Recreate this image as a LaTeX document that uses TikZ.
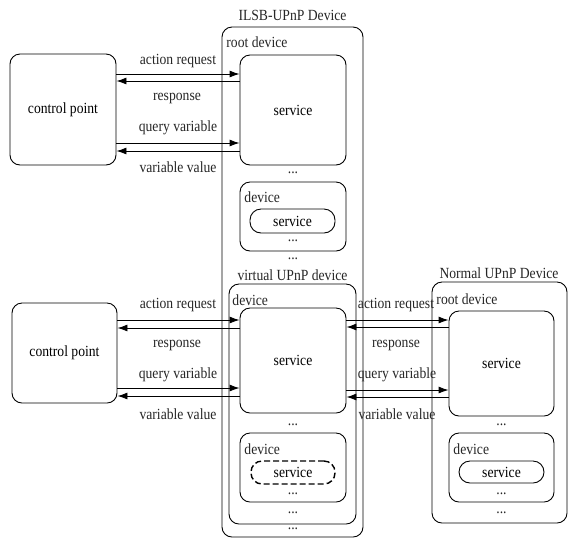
\documentclass[tikz,border=0pt]{standalone}
\usepackage{fontspec}
\setmainfont[FakeStretch=0.88]{Liberation Serif}
\usetikzlibrary{arrows.meta}
\begin{document}
\begin{tikzpicture}[x=1pt, y=-1pt, line width=0.9pt,
  font=\rmfamily\fontsize{15.5}{18}\selectfont,
  box/.style={draw, rounded corners=10pt, inner sep=0pt, align=center},
  pill/.style={draw, rounded corners=11pt, inner sep=0pt},
  lbl/.style={inner sep=0pt, text=black!85},
  dots/.style={inner sep=0pt, text=black!85},
  arr/.style={-{Latex[length=10pt,width=7pt]}}]
\useasboundingbox (0,0) rectangle (569,539);

% ILSB-UPnP device with its root device and virtual device
\node[box, minimum width=141pt, minimum height=510pt] (ilsb) at (292.5,282) {};
\node[lbl] (ilsbt) at (292.5,15) {ILSB-UPnP Device};
\node[lbl, anchor=west] (rd1) at (226,42) {root device};
\node[box, minimum width=106pt, minimum height=110pt] (svc1) at (293,110) {service};
\node[dots] (d1) at (293,173) {...};
\node[box, minimum width=106pt, minimum height=69pt] (dev1) at (293,216.5) {};
\node[lbl, anchor=west] (dv1) at (244,197) {device};
\node[pill, minimum width=85pt, minimum height=24pt] (sp1) at (292.5,221) {service};
\node[dots] (d2) at (293,241) {...};
\node[dots] (d3) at (293,259) {...};

\node[lbl] (vt) at (292.5,275) {virtual UPnP device};
\node[box, minimum width=127pt, minimum height=240pt] (vdev) at (292.5,404) {};
\node[lbl, anchor=west] (dv2) at (232,300) {device};
\node[box, minimum width=106pt, minimum height=105pt] (svc2) at (293,360.5) {service};
\node[dots] (d4) at (293,425) {...};
\node[box, minimum width=106pt, minimum height=69pt] (dev2) at (293,467.5) {};
\node[lbl, anchor=west] (dv3) at (244,449) {device};
\node[pill, dashed, dash pattern=on 6pt off 3pt, line width=1.4pt,
      minimum width=84pt, minimum height=23pt] (sp2) at (293,472.5) {service};
\node[dots] (d5) at (293,494) {...};
\node[dots] (d6) at (293,513) {...};
\node[dots] (d7) at (293,529) {...};

% normal UPnP device
\node[box, minimum width=135pt, minimum height=241pt] (norm) at (499.5,402.5) {};
\node[lbl] (nt) at (499,273) {Normal UPnP Device};
\node[lbl, anchor=west] (rd2) at (436,299) {root device};
\node[box, minimum width=105pt, minimum height=105pt] (svc3) at (501.5,363.5) {service};
\node[dots] (d8) at (501.5,425) {...};
\node[box, minimum width=105pt, minimum height=69pt] (dev3) at (501.5,467.5) {};
\node[lbl, anchor=west] (dv4) at (453,449) {device};
\node[pill, minimum width=85pt, minimum height=22pt] (sp3) at (501.5,472) {service};
\node[dots] (d9) at (501.5,494) {...};
\node[dots] (d10) at (501.5,513) {...};

% control points
\node[box, minimum width=106pt, minimum height=111pt] (cp1) at (63,109.5) {control point};
\node[box, minimum width=105pt, minimum height=100pt] (cp2) at (64.5,353) {control point};

% messages: control point 1 <-> root service
\draw[arr] (cp1.east |- 0,74) -- (svc1.west |- 0,74);
\draw[arr] (svc1.west |- 0,81) -- (cp1.east |- 0,81);
\draw[arr] (cp1.east |- 0,143) -- (svc1.west |- 0,143);
\draw[arr] (svc1.west |- 0,151) -- (cp1.east |- 0,151);
\node[lbl] (l1) at (178,61) {action request};
\node[lbl] (l2) at (177,98) {response};
\node[lbl] (l3) at (178,128) {query variable};
\node[lbl] (l4) at (178,167) {variable value};

% messages: control point 2 <-> virtual service
\draw[arr] (cp2.east |- 0,320) -- (svc2.west |- 0,320);
\draw[arr] (svc2.west |- 0,328) -- (cp2.east |- 0,328);
\draw[arr] (cp2.east |- 0,388) -- (svc2.west |- 0,388);
\draw[arr] (svc2.west |- 0,396) -- (cp2.east |- 0,396);
\node[lbl] (l5) at (178,305) {action request};
\node[lbl] (l6) at (177,345) {response};
\node[lbl] (l7) at (178,375) {query variable};
\node[lbl] (l8) at (178,414) {variable value};

% messages: virtual service <-> normal service
\draw[arr] (svc2.east |- 0,320) -- (svc3.west |- 0,320);
\draw[arr] (svc3.west |- 0,327) -- (svc2.east |- 0,327);
\draw[arr] (svc2.east |- 0,390) -- (svc3.west |- 0,390);
\draw[arr] (svc3.west |- 0,397) -- (svc2.east |- 0,397);
\node[lbl] (l9) at (396,305) {action request};
\node[lbl] (l10) at (396,345) {response};
\node[lbl] (l11) at (397,375) {query variable};
\node[lbl] (l12) at (397,414) {variable value};
\end{tikzpicture}
\end{document}
